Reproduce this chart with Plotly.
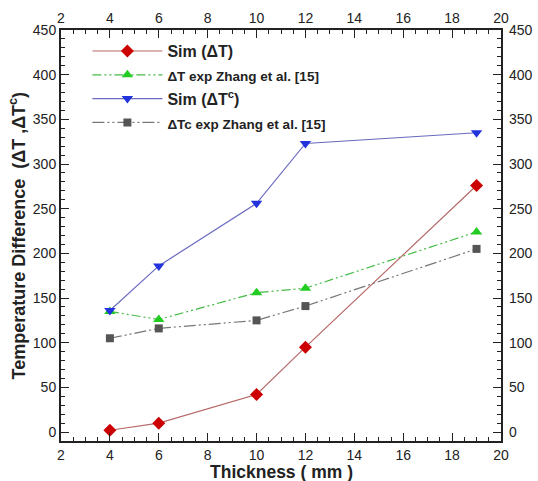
import plotly.graph_objects as go

thickness = [4, 6, 10, 12, 19]
sim_dT = [2, 10, 42, 95, 276]
exp_dT = [135, 126, 156, 161, 224]
sim_dTc = [136, 186, 256, 323, 335]
exp_dTc = [105, 116, 125, 141, 205]

names = ["<b>Sim (ΔT)</b>",
         "<b><span style='font-size:13.5px'>ΔT exp Zhang et al. [15]</span></b>",
         "<b>Sim (ΔT<sup>c</sup>)</b>",
         "<b><span style='font-size:13.5px'>ΔTc exp Zhang et al. [15]</span></b>"]

fig = go.Figure()
fig.add_trace(go.Scatter(x=thickness, y=sim_dT, name=names[0], mode="lines+markers",
                         line=dict(color="#b86a6a", width=1.2),
                         marker=dict(symbol="diamond", size=10, color="#cc0000")))
fig.add_trace(go.Scatter(x=thickness, y=exp_dT, name=names[1], mode="lines+markers",
                         line=dict(color="#44bb44", width=1.2, dash="9px,3px,2px,3px,2px,3px"),
                         marker=dict(symbol="triangle-up", size=10, color="#22cc22")))
fig.add_trace(go.Scatter(x=thickness, y=sim_dTc, name=names[2], mode="lines+markers",
                         line=dict(color="#6a6ac0", width=1.2),
                         marker=dict(symbol="triangle-down", size=10, color="#2233dd")))
fig.add_trace(go.Scatter(x=thickness, y=exp_dTc, name=names[3], mode="lines+markers",
                         line=dict(color="#777777", width=1.2, dash="12px,3px,2px,3px,2px,3px"),
                         marker=dict(symbol="square", size=8, color="#555555")))
# invisible carrier for the top/right axes
fig.add_trace(go.Scatter(x=thickness, y=sim_dTc, xaxis="x2", yaxis="y2", mode="markers",
                         marker=dict(opacity=0), showlegend=False, hoverinfo="skip"))

tickfont = dict(family="Arial", size=14, color="#222")
common_x = dict(range=[2, 20], dtick=2, ticks="inside", ticklen=8, tickwidth=1.2,
                tickcolor="#222", showgrid=False, zeroline=False, tickfont=tickfont,
                automargin=False,
                minor=dict(dtick=0.5, ticks="inside", ticklen=4, tickcolor="#222"))
common_y = dict(range=[-10, 450], dtick=50, ticks="inside", ticklen=8, tickwidth=1.2,
                tickcolor="#222", showgrid=False, zeroline=False, tickfont=tickfont,
                automargin=False,
                minor=dict(dtick=10, ticks="inside", ticklen=4, tickcolor="#222"))

fig.update_layout(
    width=538, height=481,
    margin=dict(l=61, r=37, t=30, b=40),
    paper_bgcolor="white", plot_bgcolor="white",
    font=dict(family="Arial", color="#222"),
    xaxis=dict(**common_x, showline=True, linecolor="#222", linewidth=2, mirror=True,
               ticklabelstandoff=0),
    yaxis=dict(**common_y, showline=True, linecolor="#222", linewidth=2, mirror=True),
    xaxis2=dict(**common_x, overlaying="x", side="top", matches="x", ticklabelstandoff=3),
    yaxis2=dict(**common_y, overlaying="y", side="right", matches="y", ticklabelstandoff=7),
    legend=dict(x=0.06, y=0.99, xanchor="left", yanchor="top", bgcolor="rgba(0,0,0,0)",
                font=dict(family="Arial", size=16, color="#222"), tracegroupgap=0,
                itemwidth=70),
    showlegend=True,
    annotations=[
        dict(text="<b>Thickness ( mm )</b>", xref="paper", yref="paper", x=0.5, y=0,
             xanchor="center", yanchor="top", yshift=-19, showarrow=False,
             font=dict(family="Arial", size=17.5, color="#222")),
        dict(text="<b>Temperature Difference  (ΔT ,ΔT<sup>c</sup>)</b>", xref="paper",
             yref="paper", x=0, y=0.5, xanchor="center", yanchor="middle", xshift=-43,
             textangle=-90, showarrow=False,
             font=dict(family="Arial", size=18, color="#222")),
    ],
)

fig.write_html("out.html")
